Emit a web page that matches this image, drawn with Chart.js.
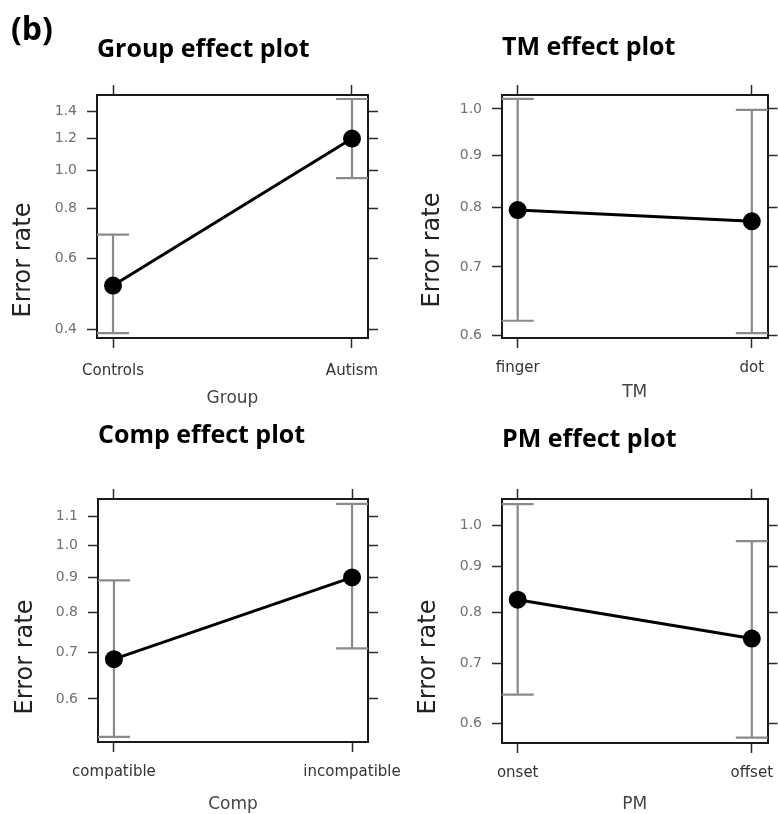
<!DOCTYPE html>
<html>
<head>
<meta charset="utf-8">
<script src="https://cdn.jsdelivr.net/npm/chart.js@4.4.1/dist/chart.umd.min.js"></script>
<style>
  html, body { margin: 0; padding: 0; background: #fff; }
  #wrap { position: relative; width: 778px; height: 814px; overflow: hidden; }
  #wrap canvas { position: absolute; }
  #tag { position: absolute; left: 11px; top: 12px; font: bold 32px/32px "Open Sans", sans-serif; color: #000; }
</style>
</head>
<body>
<div id="wrap">
  <canvas id="group" width="420" height="412" style="left:0;top:0"></canvas>
  <canvas id="tm" width="389" height="412" style="left:389px;top:0"></canvas>
  <canvas id="comp" width="420" height="402" style="left:0;top:412px"></canvas>
  <canvas id="pm" width="389" height="402" style="left:389px;top:412px"></canvas>
  <div id="tag">(b)</div>
</div>
<script>
// effect estimates with 95% bands (y axes are log scaled)
const groupLevels = ["Controls", "Autism"];
const groupFit = [0.514, 1.199];
const groupLower = [0.391, 0.955];
const groupUpper = [0.689, 1.506];
const groupTicks = [0.4, 0.6, 0.8, 1.0, 1.2, 1.4];
const groupRange = [0.38, 1.541];

const tmLevels = ["finger", "dot"];
const tmFit = [0.796, 0.776];
const tmLower = [0.62, 0.603];
const tmUpper = [1.023, 0.998];
const tmTicks = [0.6, 0.7, 0.8, 0.9, 1.0];
const tmRange = [0.5963, 1.032];

const compLevels = ["compatible", "incompatible"];
const compFit = [0.685, 0.899];
const compLower = [0.529, 0.71];
const compUpper = [0.89, 1.148];
const compTicks = [0.6, 0.7, 0.8, 0.9, 1.0, 1.1];
const compRange = [0.5215, 1.167];

const pmLevels = ["onset", "offset"];
const pmFit = [0.826, 0.747];
const pmLower = [0.646, 0.578];
const pmUpper = [1.058, 0.961];
const pmTicks = [0.6, 0.7, 0.8, 0.9, 1.0];
const pmRange = [0.5724, 1.072];

// box = [left, top, right, bottom] of the plot frame inside each canvas
const panels = [
  { id: "group", title: "Group effect plot", xTitle: "Group", levels: groupLevels, fit: groupFit,
    lower: groupLower, upper: groupUpper, ticks: groupTicks, range: groupRange,
    box: [97, 95, 368, 338], titleBase: 58, xTitleBase: 404, tickPad: 14, yLabel: [30, 260] },
  { id: "tm", title: "TM effect plot", xTitle: "TM", levels: tmLevels, fit: tmFit,
    lower: tmLower, upper: tmUpper, ticks: tmTicks, range: tmRange,
    box: [113, 95, 383, 338], titleBase: 56, xTitleBase: 398, tickPad: 11, yLabel: [50, 250] },
  { id: "comp", title: "Comp effect plot", xTitle: "Comp", levels: compLevels, fit: compFit,
    lower: compLower, upper: compUpper, ticks: compTicks, range: compRange,
    box: [98, 87, 368, 330], titleBase: 32, xTitleBase: 398, tickPad: 11, yLabel: [32, 245] },
  { id: "pm", title: "PM effect plot", xTitle: "PM", levels: pmLevels, fit: pmFit,
    lower: pmLower, upper: pmUpper, ticks: pmTicks, range: pmRange,
    box: [113, 87, 383, 331], titleBase: 36, xTitleBase: 398, tickPad: 11, yLabel: [46, 245] },
];

Chart.defaults.font.family = "'DejaVu Sans', sans-serif";

// grey confidence bars drawn under the line
const errorBars = {
  id: "errorBars",
  beforeDatasetsDraw(chart) {
    const { ctx, scales } = chart;
    const ds = chart.data.datasets[0];
    ctx.save();
    ctx.strokeStyle = "#8a8a8a";
    ctx.lineWidth = 2.2;
    ds.data.forEach((pt, i) => {
      const px = scales.x.getPixelForValue(pt.x);
      const hi = scales.y.getPixelForValue(ds.upper[i]);
      const lo = scales.y.getPixelForValue(ds.lower[i]);
      ctx.beginPath();
      ctx.moveTo(px, hi);
      ctx.lineTo(px, lo);
      ctx.moveTo(px - 16, hi);
      ctx.lineTo(px + 16, hi);
      ctx.moveTo(px - 16, lo);
      ctx.lineTo(px + 16, lo);
      ctx.stroke();
    });
    ctx.restore();
  },
};

// rotated y label, sits lower than the axis centre as in the figure
const sideLabel = {
  id: "sideLabel",
  afterDraw(chart, args, opts) {
    const ctx = chart.ctx;
    ctx.save();
    ctx.translate(opts.x, opts.y);
    ctx.rotate(-Math.PI / 2);
    ctx.font = "24px 'DejaVu Sans'";
    ctx.fillStyle = "#222";
    ctx.textAlign = "center";
    ctx.textBaseline = "alphabetic";
    ctx.fillText(opts.text, 0, 0);
    ctx.restore();
  },
};

const configFor = function (p, width, height) {
  const [left, top, right, bottom] = p.box;
  const titleSize = 25;
  const titleLine = titleSize * 1.2;
  const padTop = p.titleBase - 0.33 * titleSize - titleLine / 2;
  const padBottom = top - 10 - titleLine - padTop;
  const xTitleSize = 17;
  const xPad = height - (p.xTitleBase - 0.3 * xTitleSize) - xTitleSize / 2;

  const fixed = (size) => (s) => {
    if (s.isHorizontal()) s.height = size;
    else s.width = size;
    s.paddingLeft = s.paddingRight = s.paddingTop = s.paddingBottom = 0;
  };
  const catTicks = (s) => { s.ticks = p.levels.map((_, i) => ({ value: i })); };
  const logTicks = (s) => { s.ticks = p.ticks.map((v) => ({ value: v })); };
  const frame = { color: "#1a1a1a", width: 2 };
  const marks = (len) => ({ drawOnChartArea: false, tickLength: len, tickColor: "#2a2a2a", tickWidth: 1.5 });
  const xBase = { type: "linear", min: -0.067, max: 1.067, afterBuildTicks: catTicks, border: frame };
  const yBase = { type: "logarithmic", min: p.range[0], max: p.range[1], afterBuildTicks: logTicks, border: frame };

  return {
    type: "line",
    data: {
      datasets: [{
        data: p.fit.map((y, i) => ({ x: i, y: y })),
        lower: p.lower,
        upper: p.upper,
        borderColor: "#000",
        backgroundColor: "#000",
        borderWidth: 3,
        pointRadius: 7.5,
        pointHoverRadius: 7.5,
        tension: 0,
        clip: false,
      }],
    },
    options: {
      responsive: false,
      animation: false,
      events: [],
      layout: { padding: 0 },
      plugins: {
        legend: { display: false },
        tooltip: { enabled: false },
        title: {
          display: true,
          text: p.title,
          align: "start",
          fullSize: false,
          color: "#000",
          font: { family: "'Open Sans', sans-serif", size: titleSize, weight: "bold" },
          padding: { top: padTop, bottom: padBottom },
        },
        sideLabel: { text: "Error rate", x: p.yLabel[0], y: p.yLabel[1] },
      },
      scales: {
        x: {
          ...xBase,
          position: "bottom",
          afterFit: fixed(height - bottom),
          grid: marks(10),
          ticks: {
            callback: (v) => p.levels[v],
            color: "#333",
            font: { size: 15 },
            padding: p.tickPad,
            maxRotation: 0,
            autoSkip: false,
          },
          title: {
            display: true,
            text: p.xTitle,
            color: "#444",
            font: { size: xTitleSize, lineHeight: 1 },
            padding: { top: 0, bottom: xPad },
          },
        },
        x2: {
          ...xBase,
          position: "top",
          afterFit: fixed(10),
          grid: marks(10),
          ticks: { display: false },
        },
        y: {
          ...yBase,
          position: "left",
          afterFit: fixed(left),
          grid: marks(10),
          ticks: { callback: (v) => v.toFixed(1), color: "#707070", font: { size: 14 }, padding: 10 },
        },
        y2: {
          ...yBase,
          position: "right",
          afterFit: fixed(width - right),
          grid: marks(10),
          ticks: { display: false },
        },
      },
    },
    plugins: [errorBars, sideLabel],
  };
};

const init = function () {
  panels.forEach((p) => {
    const canvas = document.getElementById(p.id);
    new Chart(canvas, configFor(p, canvas.width, canvas.height));
  });
};

if (document.readyState !== "loading") init();
else document.addEventListener("DOMContentLoaded", init);
</script>
</body>
</html>
